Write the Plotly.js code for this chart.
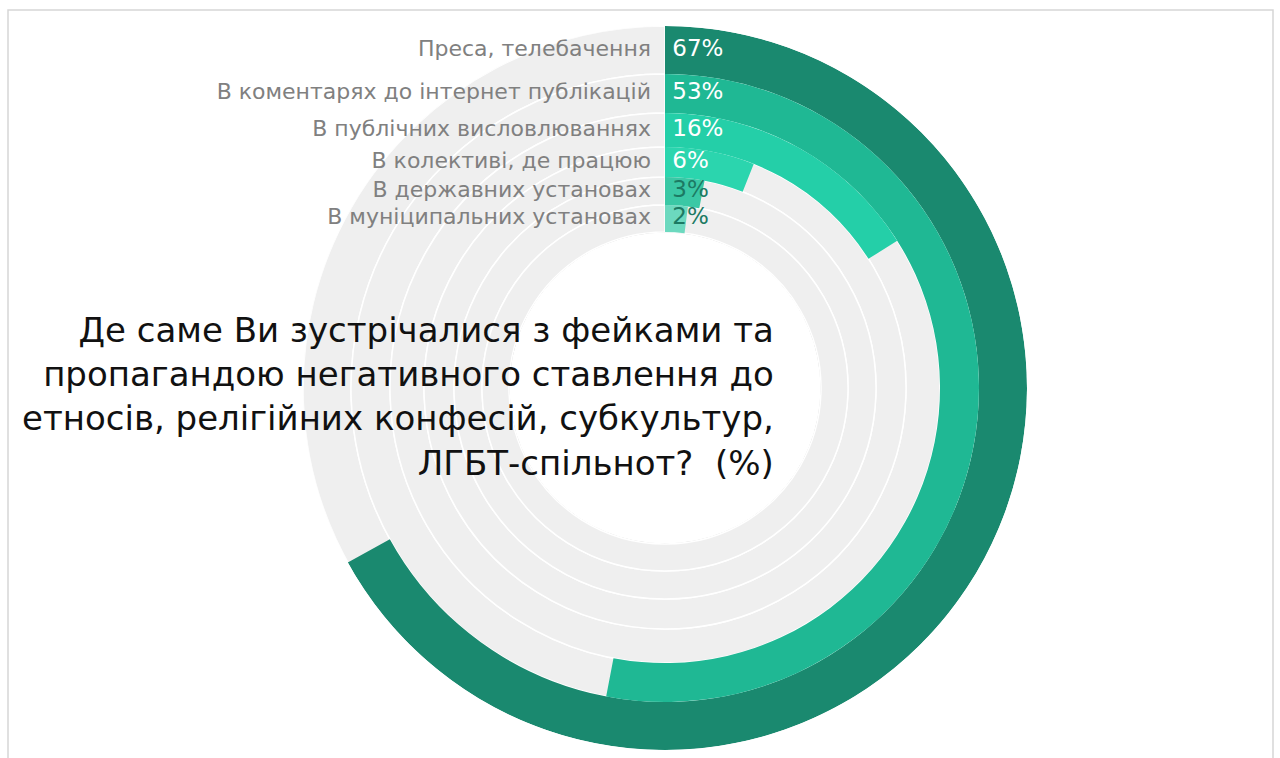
<!DOCTYPE html>
<html>
<head>
<meta charset="utf-8">
<script src="https://cdn.plot.ly/plotly-3.0.1.min.js"></script>
<style>html,body{margin:0;padding:0;background:#fff;}#chart{width:1280px;height:758px;}</style>
</head>
<body>
<div id="chart"></div>
<script>
// ---- data ----
const categories = [
  "Преса, телебачення",
  "В коментарях до інтернет публікацій",
  "В публічних висловлюваннях",
  "В колективі, де працюю",
  "В державних установах",
  "В муніципальних установах"
];
const values = [67, 53, 16, 6, 3, 2];
const valueLabels = ["67%", "53%", "16%", "6%", "3%", "2%"];
const titleText = "Де саме Ви зустрічалися з фейками та<br>пропагандою негативного ставлення до<br>етносів, релігійних конфесій, субкультур,<br>ЛГБТ-спільнот?  (%)";

// ---- style ----
const ringColors = ["#1a896f", "#1fb894", "#24cfa8", "#2bd5ae", "#3ac8a5", "#6cd9bf"];
const labelColors = ["#ffffff", "#ffffff", "#ffffff", "#ffffff", "#1c7a63", "#1c7a63"];
const ringOuter = [362, 314, 275, 241, 211, 183];
const ringInner = [314, 275, 241, 211, 183, 156];
const W = 1280, H = 758, CX = 665, CY = 388, R = 362;
const NB = "\u00a0";

const mids = ringOuter.map((o, i) => (o + ringInner[i]) / 2);
const thick = ringOuter.map((o, i) => o - ringInner[i]);

const bg = {
  type: "barpolar",
  r: thick, base: ringInner,
  theta: categories.map(() => 180), width: categories.map(() => 359.999),
  marker: {color: "#efefef", line: {color: "#ffffff", width: 1.5}},
  hoverinfo: "skip"
};
const bars = {
  type: "barpolar",
  r: thick, base: ringInner,
  theta: values.map(v => v * 3.6 / 2), width: values.map(v => v * 3.6),
  marker: {color: ringColors, line: {width: 0}},
  hoverinfo: "skip"
};
const catText = {
  type: "scatterpolar", mode: "text",
  r: mids, theta: categories.map(() => 0),
  text: categories.map(c => c + NB + NB), textposition: "middle left",
  textfont: {family: "DejaVu Sans", size: 22, color: "#808080"},
  hoverinfo: "skip", cliponaxis: false
};
const valText = {
  type: "scatterpolar", mode: "text",
  r: mids, theta: values.map(() => 0),
  text: valueLabels.map(t => NB + t), textposition: "middle right",
  textfont: {family: "DejaVu Sans", size: 23, color: labelColors},
  hoverinfo: "skip", cliponaxis: false
};

const layout = {
  width: W, height: H,
  margin: {l: 0, r: 0, t: 0, b: 0},
  paper_bgcolor: "#ffffff",
  showlegend: false,
  polar: {
    domain: {x: [(CX - R) / W, (CX + R) / W], y: [(H - CY - R) / H, (H - CY + R) / H]},
    bgcolor: "rgba(0,0,0,0)",
    barmode: "overlay",
    radialaxis: {range: [0, R], showticklabels: false, ticks: "", showline: false,
                 showgrid: true, tickvals: [ringInner[5], R], gridcolor: "#c9c9c9", gridwidth: 1},
    angularaxis: {visible: false, direction: "clockwise", rotation: 90}
  },
  annotations: [{
    xref: "paper", yref: "paper", x: 776 / W, y: (H - 396) / H,
    xanchor: "right", yanchor: "middle", align: "right", showarrow: false,
    text: titleText,
    font: {family: "DejaVu Sans", size: 34, color: "#111111"}
  }],
  shapes: [{
    type: "rect", xref: "paper", yref: "paper",
    x0: 8 / W, x1: 1273 / W, y0: -0.02, y1: (H - 10) / H,
    line: {color: "#d6d6d6", width: 1.5}, layer: "below"
  }]
};

Plotly.newPlot("chart", [bg, bars, catText, valText], layout, {displayModeBar: false, staticPlot: true});
</script>
</body>
</html>
